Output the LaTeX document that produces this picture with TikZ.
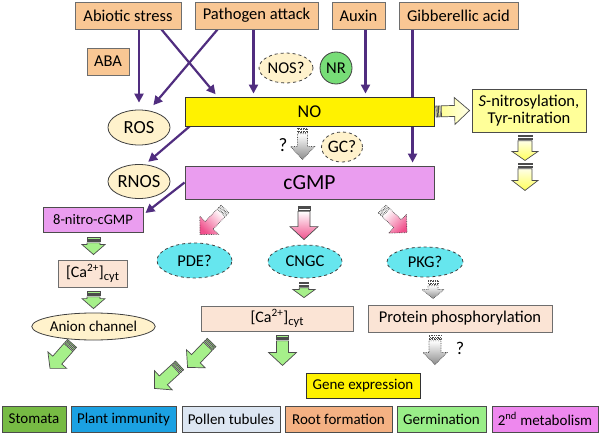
\documentclass[tikz,border=0pt]{standalone}
\usepackage{fontspec}
\setmainfont{Carlito}
\usetikzlibrary{arrows.meta,calc,shapes.geometric}
\pgfdeclarelayer{bg}\pgfsetlayers{bg,main}
\definecolor{orng}{HTML}{F9C794}
\definecolor{bordc}{HTML}{6E6E6E}
\definecolor{purp}{HTML}{502D7F}
\definecolor{viol}{HTML}{EA9DEF}
\definecolor{cream}{HTML}{FFF2CC}
\definecolor{nrgreen}{HTML}{77DD77}
\definecolor{lyel}{HTML}{FFFF99}
\definecolor{peach}{HTML}{FBE4D5}
\definecolor{cyanf}{HTML}{66E6EE}
\definecolor{stomc}{HTML}{77BB44}
\definecolor{immc}{HTML}{1BA1E2}
\definecolor{pollc}{HTML}{DCE6F2}
\definecolor{rootc}{HTML}{F4B183}
\definecolor{germc}{HTML}{99EE88}
\definecolor{metc}{HTML}{EE88EE}
\definecolor{garr}{HTML}{A6F08A}
\definecolor{pinkd}{HTML}{F0508C}
\newcommand\fs[1]{\fontsize{#1}{#1}\selectfont}
\newcommand\fsl{\fontsize{16.5}{17}\selectfont}
\newdimen\bkxa \newdimen\bkya \newdimen\bkxb \newdimen\bkyb
% #1 draw opts, #2 tail colour, #3 tip colour, #4 tail, #5 tip, #6 shaft half width, #7 head half width, #8 head length
\newcommand\blk[8]{%
  \path #4 coordinate (bkA);
  \path #5 coordinate (bkB);
  \pgfextractx{\bkxa}{\pgfpointanchor{bkA}{center}}%
  \pgfextracty{\bkya}{\pgfpointanchor{bkA}{center}}%
  \pgfextractx{\bkxb}{\pgfpointanchor{bkB}{center}}%
  \pgfextracty{\bkyb}{\pgfpointanchor{bkB}{center}}%
  \pgfmathsetmacro\bkang{atan2(\bkyb-\bkya,\bkxb-\bkxa)}%
  \pgfmathsetmacro\bklen{veclen(\bkxb-\bkxa,\bkyb-\bkya)}%
  \pgfmathsetmacro\bksa{\bkang-90}%
  \begin{scope}[shift={(bkA)},rotate=\bkang,x=1pt,y=1pt]
    \fill[#2] (0,-#6) rectangle (1.4,#6);
    \draw[#1] (0,-#6) rectangle (1.4,#6);
    \fill[#2] (2.6,-#6) rectangle (4.2,#6);
    \draw[#1] (2.6,-#6) rectangle (4.2,#6);
    \shade[top color=#3, bottom color=#2, shading angle=\bksa]
      (5.4,-#6) -- (\bklen-#8,-#6) -- (\bklen-#8,-#7) -- (\bklen,0) -- (\bklen-#8,#7) -- (\bklen-#8,#6) -- (5.4,#6) -- cycle;
    \draw[#1, line join=miter]
      (5.4,-#6) -- (\bklen-#8,-#6) -- (\bklen-#8,-#7) -- (\bklen,0) -- (\bklen-#8,#7) -- (\bklen-#8,#6) -- (5.4,#6) -- cycle;
  \end{scope}}
\tikzset{
  box/.style={rectangle, draw=bordc, line width=0.9pt, inner sep=0pt, align=center, font=\fs{16.5}},
  oval/.style={ellipse, draw=black!75, line width=0.8pt, inner sep=0pt, font=\fs{16.5}},
  conn/.style={draw=purp, line width=2.2pt, -{Triangle[length=9pt,width=9pt]}},
  solidarr/.style={draw=black!70, line width=0.7pt},
  dotarr/.style={draw=black!70, line width=0.7pt, densely dotted},
}
\begin{document}
\begin{tikzpicture}[x=1pt,y=-1pt]
\begin{pgfonlayer}{bg}
\fill[white] (0,0) rectangle (600,433);
\end{pgfonlayer}
\useasboundingbox (0,0) rectangle (600,433);

% top inputs
\node[box, fill=orng, minimum width=106pt, minimum height=27pt] (abiotic) at (128,15.5) {Abiotic stress};
\node[box, fill=orng, minimum width=123pt, minimum height=27pt] (pathogen) at (256.5,15.5) {Pathogen attack};
\node[box, fill=orng, minimum width=53pt, minimum height=27pt] (auxin) at (358.5,15.5) {Auxin};
\node[box, fill=orng, minimum width=119pt, minimum height=27pt] (gib) at (458.5,15.5) {Gibberellic acid};
\node[box, fill=orng, minimum width=42pt, minimum height=27pt] (aba) at (108,61.5) {ABA};

% main column
\node[box, draw=black!80, fill=yellow, minimum width=249pt, minimum height=29pt, font=\fs{18}] (no) at (309.5,111.5) {NO};
\node[box, draw=black!70, fill=viol, minimum width=249pt, minimum height=33pt, font=\fs{21.5}] (cgmp) at (309.5,182.5) {cGMP};

\node[oval, fill=cream, minimum width=62pt, minimum height=35pt, font=\fs{18.5}] (ros) at (139,127.5) {ROS};
\node[oval, fill=cream, minimum width=62pt, minimum height=34pt, font=\fs{18.5}] (rnos) at (139,181.5) {RNOS};
\node[oval, fill=cream, dashed, minimum width=54pt, minimum height=30pt] (nos) at (286,68) {NOS?};
\node[circle, draw=black!75, line width=0.8pt, fill=nrgreen, minimum size=32pt, inner sep=0pt, font=\fs{16.5}] (nr) at (336,68) {NR};
\node[oval, fill=cream, dashed, minimum width=41pt, minimum height=30pt, font=\fs{17.5}] (gc) at (342,147) {GC?};
\node[font=\fs{19}] (q1) at (283,145) {?};

\node[box, draw=black!70, fill=lyel, minimum width=114pt, minimum height=43pt, font=\fsl] (snitro) at (529,110.5) {\textit{S}-nitrosylation,\\Tyr-nitration};

% left column
\node[box, draw=black!70, fill=viol, minimum width=100pt, minimum height=25pt, font=\fs{14.5}] (nitro) at (93,219.5) {8-nitro-cGMP};
\node[box, fill=peach, minimum width=69pt, minimum height=27pt, font=\fs{16}] (cal) at (92.5,273.5) {[Ca\textsuperscript{2+}]\raisebox{-0.35ex}{\fs{12.5}cyt}};
\node[oval, fill=cream, minimum width=105pt, minimum height=27pt, font=\fs{15}] (anion) at (93.5,326.5) {Anion channel};

% effectors
\node[oval, fill=cyanf, dashed, minimum width=75pt, minimum height=35pt] (pde) at (194.5,260.5) {PDE?};
\node[oval, fill=cyanf, dashed, minimum width=74pt, minimum height=33pt] (cngc) at (305,261.5) {CNGC};
\node[oval, fill=cyanf, dashed, minimum width=76pt, minimum height=30pt] (pkg) at (425,262) {PKG?};

\node[box, fill=peach, minimum width=152pt, minimum height=25pt, font=\fs{16}] (cam) at (277,318.5) {[Ca\textsuperscript{2+}]\raisebox{-0.35ex}{\fs{12.5}cyt}};
\node[box, fill=peach, minimum width=184pt, minimum height=27pt, font=\fs{16.5}] (prot) at (460,318.5) {Protein phosphorylation};
\node[box, draw=black!80, fill=yellow, minimum width=114pt, minimum height=25pt, font=\fs{15}] (gene) at (363,385.5) {Gene expression};
\node[font=\fs{18}] (q2) at (460,348) {?};

% legend
\node[box, draw=black!70, fill=stomc, minimum width=64pt, minimum height=26pt, font=\fs{15}] (stom) at (34,419) {Stomata};
\node[box, draw=black!70, fill=immc, minimum width=105pt, minimum height=26pt, font=\fs{15}] (imm) at (123.5,419) {Plant immunity};
\node[box, draw=black!70, fill=pollc, minimum width=98pt, minimum height=26pt, font=\fs{15}] (poll) at (231,419) {Pollen tubules};
\node[box, draw=black!70, fill=rootc, minimum width=107pt, minimum height=26pt, font=\fs{15}] (root) at (338.5,419) {Root formation};
\node[box, draw=black!70, fill=germc, minimum width=89pt, minimum height=26pt, font=\fs{15}] (germ) at (441.5,419) {Germination};
\node[box, draw=black!70, fill=metc, minimum width=106pt, minimum height=26pt, font=\fs{15}] (metab) at (545,419) {2\textsuperscript{nd} metabolism};

% purple connectors (behind boxes)
\begin{pgfonlayer}{bg}
\draw[conn, shorten >=7pt] (abiotic.south -| ros.north) -- (ros.north);
\draw[conn, shorten >=3pt] ($(abiotic.south east)+(-20,0)$) -- ($(no.north west)+(33,0)$);
\draw[conn, shorten >=7pt] ($(pathogen.south west)+(23,0)$) -- (ros.60);
\draw[conn, shorten >=3pt] ($(pathogen.south)+(-3,0)$) coordinate (p1) -- (p1 |- no.north);
\draw[conn, shorten >=3pt] ($(auxin.south)+(7,0)$) coordinate (a1) -- (a1 |- no.north);
\draw[conn, shorten >=3pt] ($(gib.south west)+(14,0)$) coordinate (g1) -- (g1 |- cgmp.north);
\draw[conn, shorten >=4pt] ($(no.south west)+(5,0)$) -- (rnos.70);
\draw[conn] (cgmp.west) -- ($(nitro.east)+(2,-6.5)$);
\end{pgfonlayer}

% block arrows
\blk{solidarr}{lyel}{yellow!8}{($(no.east)+(1.5,0)$)}{($(snitro.west)+(-2,0)$)}{5.5}{13.5}{15}
\blk{solidarr}{yellow!10}{yellow!65}{($(snitro.south)+(-4,3)$)}{($(snitro.south)+(-4,28)$)}{7}{13}{9}
\blk{solidarr}{yellow!10}{yellow!65}{($(snitro.south)+(-4,31)$)}{($(snitro.south)+(-4,58)$)}{7}{13}{10}
\blk{dotarr}{white}{black!45}{($(no.south)+(-7,2)$)}{($(cgmp.north)+(-7,-6)$)}{5}{12}{13}

\blk{dotarr}{white}{pinkd}{($(cgmp.south)+(-84.5,9.5)$)}{($(pde.north)+(5.5,-8)$)}{5.5}{13}{13}
\blk{solidarr}{white}{pinkd}{($(cgmp.south)+(-5.5,6.5)$)}{($(cngc.north)+(-1,-5)$)}{6}{14}{13}
\blk{dotarr}{white}{pinkd}{($(cgmp.south)+(72.5,9.5)$)}{($(pkg.north)+(-18,-14)$)}{5.5}{13}{13}

\blk{solidarr}{garr}{garr}{($(nitro.south)+(0.5,5)$)}{($(cal.north)+(1,-5)$)}{6.5}{11.5}{10}
\blk{solidarr}{garr}{garr}{($(cal.south)+(1,4)$)}{($(anion.north)+(0,-4)$)}{6.5}{11.5}{10}
\blk{solidarr}{garr}{garr}{($(anion.south)+(-21.5,3)$)}{($(anion.south)+(-43.5,28)$)}{6}{12.5}{11}
\blk{solidarr}{garr}{garr}{($(cngc.south)+(-1,4)$)}{($(cam.north)+(27,-8)$)}{4.8}{11}{8}
\blk{solidarr}{garr}{garr}{($(cam.south)+(5.5,4)$)}{($(cam.south)+(5.5,34)$)}{6}{14}{13}
\blk{solidarr}{garr}{garr}{($(cam.south west)+(11,11)$)}{($(cam.south west)+(-13,36)$)}{6}{13}{12}
\blk{solidarr}{garr}{garr}{($(cam.south west)+(-21,34)$)}{($(cam.south west)+(-46,57)$)}{6}{13}{12}

\blk{dotarr}{white}{black!45}{($(pkg.south)+(8,3)$)}{($(prot.north)+(-27,-6)$)}{5}{11}{9}
\blk{dotarr}{white}{black!45}{($(prot.south)+(-25,3)$)}{($(gene.north)+(72,-8)$)}{6}{12}{12}
\end{tikzpicture}
\end{document}
